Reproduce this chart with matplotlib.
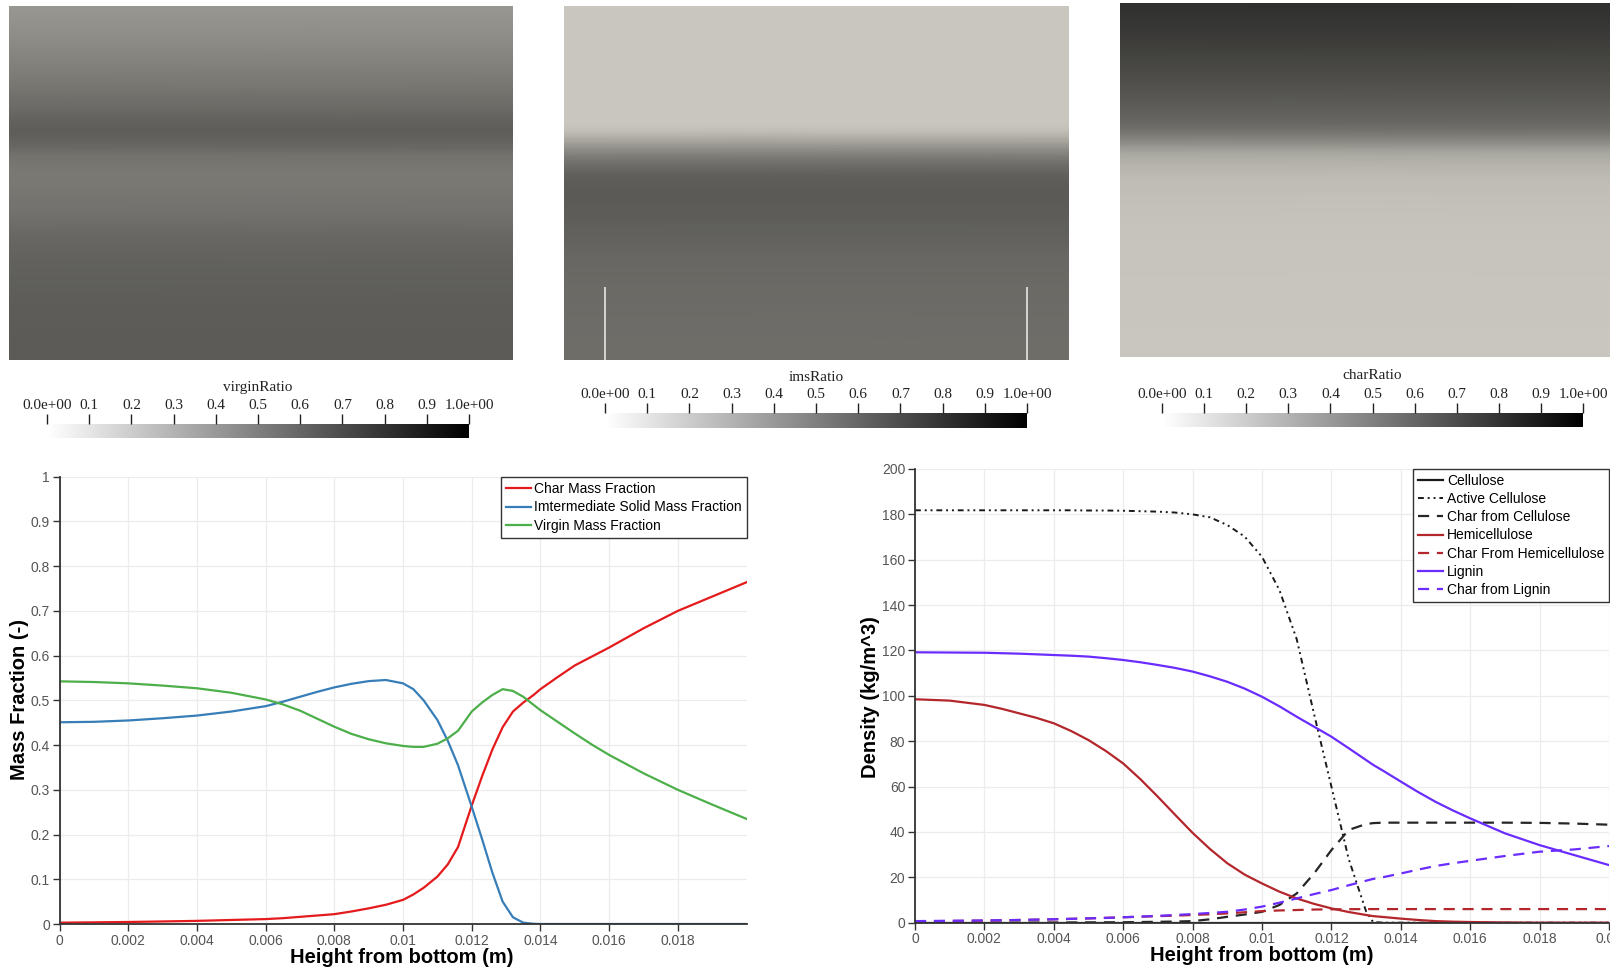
import numpy as np
import matplotlib
matplotlib.use("Agg")
import matplotlib.pyplot as plt
from matplotlib.colors import LinearSegmentedColormap, Normalize
from matplotlib.cm import ScalarMappable
from matplotlib.ticker import FuncFormatter

plt.rcParams['font.family'] = ['Liberation Sans', 'DejaVu Sans']

# mass fractions along the height (left chart and the three top panels)
h_mass = [0, 0.001, 0.002, 0.003, 0.004, 0.005, 0.006, 0.0065, 0.007, 0.0075,
          0.008, 0.0085, 0.009, 0.0095, 0.01, 0.0103, 0.0106, 0.011, 0.0113, 0.0116,
          0.012, 0.0123, 0.0126, 0.0129, 0.0132, 0.0135, 0.0138, 0.014, 0.0145, 0.015,
          0.0155, 0.016, 0.017, 0.018, 0.019, 0.02]
char_frac = [0.003, 0.0037, 0.0045, 0.0057, 0.007, 0.009, 0.011, 0.013, 0.016, 0.019,
             0.022, 0.028, 0.035, 0.043, 0.054, 0.066, 0.081, 0.106, 0.133, 0.172,
             0.265, 0.33, 0.39, 0.44, 0.475, 0.495, 0.512, 0.525, 0.552, 0.578,
             0.598, 0.618, 0.661, 0.70, 0.732, 0.764]
ims_frac = [0.451, 0.452, 0.455, 0.46, 0.466, 0.475, 0.487, 0.497, 0.508, 0.519,
            0.529, 0.537, 0.543, 0.5455, 0.538, 0.525, 0.500, 0.456, 0.41, 0.355,
            0.262, 0.19, 0.115, 0.05, 0.015, 0.003, 0.0005, 0.0, 0.0, 0.0,
            0.0, 0.0, 0.0, 0.0, 0.0, 0.0]
virgin_frac = [0.5425, 0.541, 0.538, 0.533, 0.527, 0.517, 0.502, 0.491, 0.477, 0.459,
               0.441, 0.425, 0.413, 0.404, 0.398, 0.396, 0.396, 0.403, 0.415, 0.432,
               0.475, 0.495, 0.512, 0.525, 0.521, 0.508, 0.49, 0.478, 0.452, 0.426,
               0.401, 0.378, 0.337, 0.30, 0.267, 0.235]

# densities along the height (right chart)
h_dens = [0, 0.001, 0.002, 0.0025, 0.003, 0.0035, 0.004, 0.0045, 0.005, 0.0055,
          0.006, 0.0065, 0.007, 0.0075, 0.008, 0.0085, 0.009, 0.0095, 0.01, 0.0105,
          0.011, 0.0115, 0.012, 0.0125, 0.013, 0.0132, 0.0135, 0.014, 0.0145, 0.015,
          0.0155, 0.016, 0.017, 0.018, 0.019, 0.02]
cellulose = [0, 0, 0, 0, 0, 0, 0, 0, 0, 0,
             0, 0, 0, 0, 0, 0, 0, 0, 0, 0,
             0, 0, 0, 0, 0, 0, 0, 0, 0, 0,
             0, 0, 0, 0, 0, 0]
active_cellulose = [181.8, 181.8, 181.8, 181.8, 181.8, 181.8, 181.8, 181.8, 181.7, 181.7,
                    181.6, 181.4, 181.2, 180.8, 180.0, 178.7, 175.3, 170.2, 161.3, 146.7,
                    125.0, 92.0, 60.0, 28.0, 5.0, 0.3, 0, 0, 0, 0,
                    0, 0, 0, 0, 0, 0]
char_cellulose = [0, 0, 0, 0.02, 0.05, 0.07, 0.1, 0.12, 0.15, 0.17,
                  0.2, 0.3, 0.4, 0.5, 0.7, 1.5, 2.6, 3.6, 4.8, 7.8,
                  12.9, 21.7, 32.0, 40.9, 43.5, 43.9, 44.1, 44.1, 44.1, 44.1,
                  44.1, 44.1, 44.1, 44.0, 43.7, 43.2]
hemicellulose = [98.5, 97.9, 96.0, 94.3, 92.3, 90.3, 87.9, 84.5, 80.5, 75.7,
                 70.2, 63.2, 55.5, 47.5, 39.6, 32.5, 26.2, 21.2, 17.3, 13.7,
                 10.7, 8.3, 6.3, 4.7, 3.4, 2.9, 2.5, 1.8, 1.2, 0.7,
                 0.45, 0.3, 0.1, 0, 0, 0]
char_hemicellulose = [0.6, 0.75, 0.9, 1.05, 1.2, 1.35, 1.5, 1.7, 1.9, 2.15,
                      2.4, 2.65, 2.9, 3.1, 3.4, 3.7, 4.1, 4.6, 5.1, 5.4,
                      5.6, 5.8, 5.9, 5.95, 6.0, 6.0, 6.0, 6.0, 6.0, 6.0,
                      6.0, 6.0, 6.0, 6.0, 6.0, 6.0]
lignin = [119.2, 119.1, 119.0, 118.8, 118.6, 118.3, 118.0, 117.7, 117.3, 116.6,
          115.8, 114.8, 113.6, 112.3, 110.7, 108.6, 106.2, 103.2, 99.6, 95.4,
          90.8, 86.4, 82.0, 76.9, 71.7, 69.6, 66.9, 62.2, 57.6, 53.3,
          49.5, 46.0, 39.4, 34.2, 29.8, 25.4]
char_lignin = [0.7, 0.85, 1.0, 1.1, 1.2, 1.35, 1.5, 1.7, 1.9, 2.1,
               2.4, 2.7, 3.0, 3.4, 3.8, 4.3, 4.8, 5.8, 7.1, 8.8,
               10.7, 12.6, 14.4, 16.5, 18.5, 19.3, 20.1, 21.7, 23.4, 25.0,
               26.2, 27.3, 29.4, 31.3, 32.3, 33.8]

cbar_ticks = [0, 0.1, 0.2, 0.3, 0.4, 0.5, 0.6, 0.7, 0.8, 0.9, 1.0]
cbar_labels = ["0.0e+00", "0.1", "0.2", "0.3", "0.4", "0.5", "0.6", "0.7", "0.8", "0.9", "1.0e+00"]
mass_xticks = [0, 0.002, 0.004, 0.006, 0.008, 0.01, 0.012, 0.014, 0.016, 0.018]
dens_xticks = [0, 0.002, 0.004, 0.006, 0.008, 0.01, 0.012, 0.014, 0.016, 0.018, 0.02]
mass_yticks = [0, 0.1, 0.2, 0.3, 0.4, 0.5, 0.6, 0.7, 0.8, 0.9, 1]
dens_yticks = [0, 20, 40, 60, 80, 100, 120, 140, 160, 180, 200]

W, H = 1610, 967
fig = plt.figure(figsize=(W / 100, H / 100), dpi=100)


def px_rect(x0, y0, x1, y1):
    # pixel box (top-left origin) -> figure fraction rect
    return [x0 / W, 1 - y1 / H, (x1 - x0) / W, (y1 - y0) / H]


# shaded grey for the rendered slices, plain grey for the colour bars
panel_cmap = LinearSegmentedColormap.from_list("shaded", ["#c8c6be", "#000000"])
bar_cmap = LinearSegmentedColormap.from_list("bar", ["#ffffff", "#000000"])

panels = [
    ("virginRatio", virgin_frac, (9, 6, 513, 360), (47, 424, 469, 438), 387),
    ("imsRatio", ims_frac, (564, 6, 1069, 360), (605, 413, 1027, 428), 377),
    ("charRatio", char_frac, (1120, 3, 1610, 357), (1162, 413, 1583, 427), 375),
]

for name, values, box, cbox, title_y in panels:
    ax = fig.add_axes(px_rect(*box))
    vals = np.array(values)
    ax.pcolormesh([0, 1], h_mass, np.column_stack([vals, vals]),
                  shading="gouraud", cmap=panel_cmap, vmin=0, vmax=1)
    ax.set_xlim(0, 1)
    ax.set_ylim(0, 0.02)
    ax.axis("off")
    if name == "imsRatio":
        # the two thin light marks at the bottom of the middle slice
        ax.vlines([0.081, 0.917], 0, 0.0041, color="#dcdcdc", lw=1.3)

    cax = fig.add_axes(px_rect(*cbox))
    cb = fig.colorbar(ScalarMappable(norm=Normalize(0, 1), cmap=bar_cmap),
                      cax=cax, orientation="horizontal", ticklocation="top")
    cb.outline.set_visible(False)
    cb.set_ticks(cbar_ticks, labels=cbar_labels)
    cax.tick_params(axis="x", length=7.5, width=1, color="#222222", pad=1.2,
                    labelsize=11, labelcolor="#222222")
    for lbl in cax.get_xticklabels():
        lbl.set_family("Liberation Serif")
    fig.text((cbox[0] + cbox[2]) / 2 / W, 1 - title_y / H, name,
             ha="center", va="center", fontsize=11, color="#222222",
             family="Liberation Serif")

fmt = FuncFormatter(lambda v, p: f"{round(v, 6):g}")


def style_axes(ax):
    for side in ["top", "right"]:
        ax.spines[side].set_visible(False)
    for side in ["left", "bottom"]:
        ax.spines[side].set_color("#333333")
        ax.spines[side].set_linewidth(1.3)
    ax.grid(True, color="#ececec", lw=0.9)
    ax.set_axisbelow(True)
    ax.tick_params(length=5, width=1, color="#333333", labelsize=10,
                   labelcolor="#555555", pad=2)
    ax.xaxis.set_major_formatter(fmt)
    ax.yaxis.set_major_formatter(fmt)


# left chart: mass fractions
ax1 = fig.add_axes(px_rect(59.6, 476.7, 746.5, 924))
ax1.plot(h_mass, char_frac, color="#e41a1c", lw=1.6, label="Char Mass Fraction")
ax1.plot(h_mass, ims_frac, color="#377eb8", lw=1.6, label="Imtermediate Solid Mass Fraction")
ax1.plot(h_mass, virgin_frac, color="#4daf4a", lw=1.6, label="Virgin Mass Fraction")
ax1.set_xlim(0, 0.02)
ax1.set_ylim(0, 1)
ax1.set_xticks(mass_xticks)
ax1.set_yticks(mass_yticks)
style_axes(ax1)
ax1.set_xlabel("Height from bottom (m)", fontsize=14.5, fontweight="bold", va="center")
ax1.set_ylabel("Mass Fraction (-)", fontsize=14.5, fontweight="bold", va="center")
ax1.xaxis.set_label_coords(0.4985, -0.0738)
ax1.yaxis.set_label_coords(-0.0577, 0.5008)
leg1 = ax1.legend(loc="upper right", bbox_to_anchor=(1, 1), borderaxespad=0,
                  fontsize=10, handlelength=1.8, handletextpad=0.25,
                  labelspacing=0.35, borderpad=0.35, fancybox=False, framealpha=1)
leg1.get_frame().set_edgecolor("#333333")
leg1.get_frame().set_linewidth(1)

# right chart: densities
ax2 = fig.add_axes(px_rect(915, 469, 1609, 922.7))
ax2.plot(h_dens, cellulose, color="#1a1a1a", lw=1.6, label="Cellulose")
ax2.plot(h_dens, active_cellulose, color="#1a1a1a", lw=1.4,
         ls=(0, (3, 2, 1, 2, 1, 2)), label="Active Cellulose")
ax2.plot(h_dens, char_cellulose, color="#262626", lw=1.6,
         ls=(0, (5, 3.5)), label="Char from Cellulose")
ax2.plot(h_dens, hemicellulose, color="#b3262b", lw=1.6, label="Hemicellulose")
ax2.plot(h_dens, char_hemicellulose, color="#b3262b", lw=1.6,
         ls=(0, (5, 3.5)), label="Char From Hemicellulose")
ax2.plot(h_dens, lignin, color="#6a2cff", lw=1.6, label="Lignin")
ax2.plot(h_dens, char_lignin, color="#6a2cff", lw=1.6,
         ls=(0, (5, 3.5)), label="Char from Lignin")
ax2.set_xlim(0, 0.02)
ax2.set_ylim(0, 200)
ax2.set_xticks(dens_xticks)
ax2.set_yticks(dens_yticks)
style_axes(ax2)
ax2.set_xlabel("Height from bottom (m)", fontsize=14.5, fontweight="bold", va="center")
ax2.set_ylabel("Density (kg/m^3)", fontsize=14.5, fontweight="bold", va="center")
ax2.xaxis.set_label_coords(0.5, -0.0712)
ax2.yaxis.set_label_coords(-0.0648, 0.497)
leg2 = ax2.legend(loc="upper right", bbox_to_anchor=(1, 1), borderaxespad=0,
                  fontsize=10, handlelength=1.8, handletextpad=0.25,
                  labelspacing=0.3, borderpad=0.35, fancybox=False, framealpha=1)
leg2.get_frame().set_edgecolor("#333333")
leg2.get_frame().set_linewidth(1)

fig.savefig("out.png", dpi=100)
